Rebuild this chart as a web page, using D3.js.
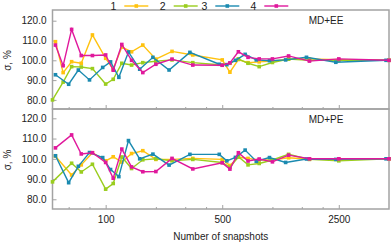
<!DOCTYPE html>
<html>
<head>
<meta charset="utf-8">
<title>sigma vs number of snapshots</title>
<script src="https://cdnjs.cloudflare.com/ajax/libs/d3/7.8.5/d3.min.js"></script>
<style>
  body { margin: 0; background: #fff; }
  text { font-family: "Liberation Sans", Arial, sans-serif; fill: #222; }
</style>
</head>
<body>
<script>
// number of snapshots (x) per series
var xEE      = [50, 55.6, 62.5, 71.4, 83.3, 100, 111, 125, 143, 167, 200, 250, 333, 500, 556, 625, 714, 833, 1000, 1250, 1667, 2500, 5000];
var xEEgreen = [48, 55.6, 62.5, 71.4, 83.3, 100, 111, 125, 143, 167, 200, 250, 333, 500, 556, 625, 714, 833, 1000, 1250, 1667, 2500, 5000];
var xPE      = [50, 62.5, 71.4, 83.3, 100, 111, 125, 143, 167, 200, 250, 333, 500, 556, 625, 714, 833, 1000, 1250, 1667, 2500, 5000];
var xPEgreen = [48, 62.5, 71.4, 83.3, 100, 111, 125, 143, 167, 200, 250, 333, 500, 556, 625, 714, 833, 1000, 1250, 1667, 2500, 5000];
var xBlue    = [50, 60, 68.6, 80, 96, 107, 120, 137, 160, 192, 240, 320, 480, 533, 600, 686, 800, 960, 1200, 1600, 2400, 4800];

// MD+EE, sigma in %
var ee1 = [109.4, 93.8, 99.3, 98.5, 112.8, 101, 95.5, 106.7, 104.3, 107.7, 100.6, 104.5, 102.7, 100.2, 94, 100.4, 98.8, 99.2, 99.6, 100.7, 100.7, 100.3, 100];
var ee2 = [80, 89, 96.8, 96.6, 95.8, 88, 90.4, 98.5, 97.6, 98.8, 99.5, 100.2, 98.8, 97.6, 98.5, 100.7, 98.5, 96.8, 98.9, 100.6, 100, 100, 100];
var ee3 = [92.7, 87.9, 95.1, 90.1, 96.4, 99.2, 91.4, 104.2, 95.5, 101.5, 95.1, 104, 98, 97.8, 100, 103, 100.2, 99.8, 100.2, 101.5, 99, 100];
var ee4 = [107.7, 97.3, 115.6, 102.4, 102.4, 102.7, 95, 108, 100, 93.8, 98, 100.6, 97.6, 97.5, 98.7, 104.3, 101.5, 100.7, 100.7, 102.2, 99.6, 100.7, 100];

// MD+PE, sigma in %
var pe1 = [101.3, 92, 97, 103, 99, 101, 98.4, 102.6, 104, 99.7, 99.7, 100.2, 99.7, 96.7, 100.8, 100.2, 99.4, 99.5, 100.5, 99.8, 100, 100];
var pe2 = [88.6, 97.8, 93.5, 97.3, 85, 87.8, 100.9, 95.2, 99.5, 100, 99, 99.7, 98.2, 95.8, 101, 97, 97.7, 99.4, 102.2, 99.7, 99, 100];
var pe3 = [101.5, 88.2, 96.3, 103.1, 100.6, 94.7, 91.2, 109, 100, 102.3, 96.9, 102.2, 102.2, 99, 100.7, 104.3, 98.8, 100.6, 98.2, 99.9, 99.7, 100];
var pe4 = [105.4, 111.8, 102.4, 103, 98.2, 90.4, 104.8, 96, 93.6, 93.7, 100.2, 95, 98, 94.9, 103, 98.9, 99.9, 98.5, 101.8, 100, 100, 100];

var seriesNames = ["1", "2", "3", "4"];
var colors = ["#ffc20e", "#9acd1e", "#1a8ab0", "#e0189c"];
var yTicks = [80, 90, 100, 110, 120];
var xTicks = [100, 500, 2500];
var xMinor = [60, 80, 200, 300, 400, 1000, 1500, 2000];

var w = 392, h = 242, left = 52.5, right = 389;

var svg = d3.select("body").append("svg")
    .attr("width", w)
    .attr("height", h);

var x = d3.scaleLog().domain([48, 5000]).range([left, right]);

var panels = [
    { label: "MD+EE", top: 10, bottom: 109, yr: [109.8, 10.8],
      xs: [xEE, xEEgreen, xBlue, xEE], ys: [ee1, ee2, ee3, ee4] },
    { label: "MD+PE", top: 109, bottom: 209, yr: [209.4, 108.2],
      xs: [xPE, xPEgreen, xBlue, xPE], ys: [pe1, pe2, pe3, pe4] }
];

panels.forEach(function(p) {
    var y = d3.scaleLinear().domain([75, 125]).range(p.yr);
    var g = svg.append("g");

    g.append("g")
        .attr("transform", "translate(" + left + ",0)")
        .call(d3.axisLeft(y).tickValues(yTicks).tickSize(-4).tickPadding(6).tickFormat(d3.format(".1f")))
        .call(styleAxis);

    g.append("g")
        .attr("transform", "translate(0," + p.bottom + ")")
        .call(d3.axisBottom(x).tickValues(xTicks).tickSize(-4).tickPadding(7)
              .tickFormat(p.label == "MD+PE" ? d3.format("d") : ""))
        .call(styleAxis);

    g.append("g")
        .attr("transform", "translate(0," + p.bottom + ")")
        .call(d3.axisBottom(x).tickValues(xMinor).tickSize(-2).tickFormat(""))
        .call(styleAxis);

    g.append("rect")
        .attr("x", left).attr("y", p.top)
        .attr("width", right - left).attr("height", p.bottom - p.top)
        .attr("fill", "none")
        .attr("stroke", "#a3a3a3")
        .attr("stroke-width", 1.5);

    g.append("text")
        .attr("transform", "translate(10.5," + ((p.top + p.bottom) / 2 + 1) + ") rotate(-90)")
        .attr("text-anchor", "middle")
        .attr("font-size", 10)
        .text("σ, %");

    g.append("text")
        .attr("x", 326).attr("y", p.top + 13.5)
        .attr("text-anchor", "middle")
        .attr("font-size", 10)
        .text(p.label);

    var line = d3.line()
        .x(function(d) { return x(d[0]); })
        .y(function(d) { return y(d[1]); });

    p.ys.forEach(function(vals, i) {
        var pts = vals.map(function(v, j) { return [p.xs[i][j], v]; });
        g.append("path")
            .datum(pts)
            .attr("d", line)
            .attr("fill", "none")
            .attr("stroke", colors[i])
            .attr("stroke-width", 1.4);
        g.selectAll(null)
            .data(pts)
            .enter()
            .append("rect")
            .attr("x", function(d) { return x(d[0]) - 1.8; })
            .attr("y", function(d) { return y(d[1]) - 1.8; })
            .attr("width", 3.6)
            .attr("height", 3.6)
            .attr("fill", colors[i]);
    });
});

function styleAxis(sel) {
    sel.select(".domain").remove();
    sel.selectAll(".tick line").attr("stroke", "#a3a3a3");
    sel.selectAll(".tick text").attr("font-size", 10).attr("fill", "#222")
        .style("font-family", '"Liberation Sans", Arial, sans-serif');
}

svg.append("text")
    .attr("x", (left + right) / 2).attr("y", 239.5)
    .attr("text-anchor", "middle")
    .attr("font-size", 10)
    .text("Number of snapshots");

// legend along the top edge
var legendX = [113.3, 162.7, 204.3, 253.3];
var legend = svg.selectAll(".key")
    .data(seriesNames)
    .enter()
    .append("g")
    .attr("class", "key")
    .attr("transform", function(d, i) { return "translate(" + legendX[i] + ",6)"; });

legend.append("text")
    .attr("text-anchor", "middle")
    .attr("dy", "0.36em")
    .attr("font-size", 10.5)
    .text(function(d) { return d; });

legend.append("line")
    .attr("x1", 11).attr("x2", 35)
    .attr("stroke", function(d, i) { return colors[i]; })
    .attr("stroke-width", 1.4);

legend.append("rect")
    .attr("x", 21.2).attr("y", -1.8)
    .attr("width", 3.6).attr("height", 3.6)
    .attr("fill", function(d, i) { return colors[i]; });
</script>
</body>
</html>
